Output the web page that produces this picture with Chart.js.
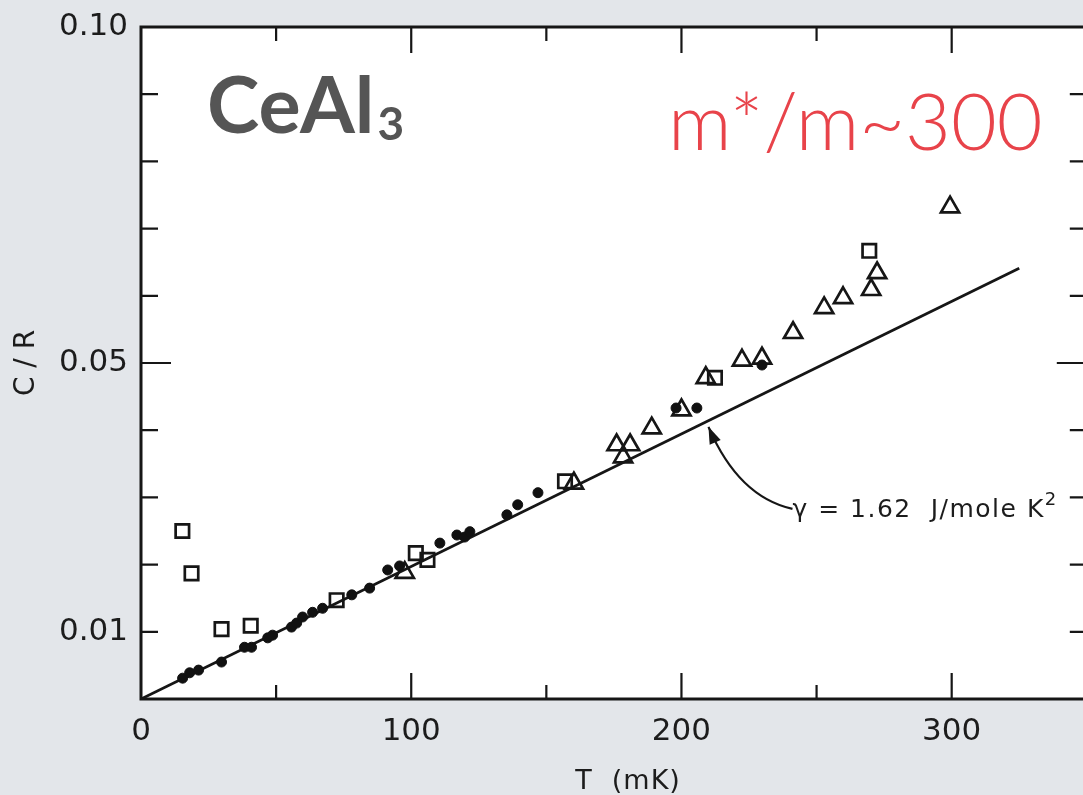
<!DOCTYPE html>
<html>
<head>
<meta charset="utf-8">
<script src="https://cdn.jsdelivr.net/npm/chart.js@4/dist/chart.umd.min.js"></script>
<style>
html,body{margin:0;padding:0;overflow:hidden;background:#e3e6ea;}
#wrap{width:1100px;height:795px;}
</style>
</head>
<body>
<div id="wrap"><canvas id="chart" width="1100" height="795"></canvas></div>
<script>
// C/R vs T (mK) for CeAl3
const dotT=[15.4,18.0,21.3,29.8,38.3,40.9,46.9,48.7,55.7,57.6,59.8,63.5,67.2,78.0,84.6,91.3,95.7,110.6,116.9,119.8,121.7,135.4,139.4,146.9,198.0,205.7,229.8];
const dotC=[0.0031,0.0039,0.0043,0.0055,0.0077,0.0077,0.0091,0.0095,0.0107,0.0113,0.0122,0.0129,0.0135,0.0155,0.0165,0.0192,0.0198,0.0232,0.0244,0.0241,0.0249,0.0274,0.0289,0.0307,0.0433,0.0433,0.0497];
const squareT=[15.3,18.7,29.8,40.6,72.4,101.7,106.0,156.9,212.4,269.5];
const squareC=[0.0250,0.0187,0.0104,0.0109,0.0147,0.0217,0.0207,0.0324,0.0478,0.0667];
const triT=[97.6,160.2,176.0,181.0,178.4,189.0,200.0,209.0,222.4,229.8,241.3,252.8,259.8,270.2,272.4,299.4];
const triC=[0.0188,0.0321,0.0378,0.0378,0.0360,0.0403,0.0430,0.0478,0.0504,0.0507,0.0545,0.0582,0.0597,0.0609,0.0634,0.0732];
// gamma = 1.62 J/mole K^2 fit line, end points
const fitT=[0,325];
const fitC=[0,0.0641];
const xLabels=[0,100,200,300];
const yLabels=[0.01,0.05,0.10];
const xMajor=[100,200,300];
const xMinor=[50,150,250];
const yMinor=[0.01,0.02,0.03,0.04,0.06,0.07,0.08,0.09];
const yMajor=[0.05];

const pts=(xs,ys)=>xs.map((x,i)=>({x:x,y:ys[i]}));

const framePlugin={
  id:"frame",
  beforeDraw(chart){
    const ctx=chart.ctx,a=chart.chartArea;
    ctx.save();
    ctx.fillStyle="#e3e6ea";
    ctx.fillRect(0,0,chart.width,chart.height);
    ctx.fillStyle="#ffffff";
    ctx.fillRect(a.left,a.top,a.right-a.left,a.bottom-a.top);
    ctx.restore();
  },
  afterDraw(chart){
    const ctx=chart.ctx,a=chart.chartArea,xs=chart.scales.x,ys=chart.scales.y;
    ctx.save();
    ctx.strokeStyle="#161616";
    ctx.lineWidth=3;
    ctx.strokeRect(a.left,a.top,a.right-a.left,a.bottom-a.top);
    ctx.lineWidth=2.2;
    ctx.beginPath();
    xMajor.concat(xMinor).forEach(v=>{
      const p=xs.getPixelForValue(v),len=xMajor.includes(v)?26:14;
      ctx.moveTo(p,a.bottom);ctx.lineTo(p,a.bottom-len);
      ctx.moveTo(p,a.top);ctx.lineTo(p,a.top+len);
    });
    yMinor.concat(yMajor).forEach(v=>{
      const p=ys.getPixelForValue(v),len=yMajor.includes(v)?30:17;
      ctx.moveTo(a.left,p);ctx.lineTo(a.left+len,p);
      ctx.moveTo(a.right,p);ctx.lineTo(a.right-len,p);
    });
    ctx.stroke();

    // arrow to the fit line
    const tx=xs.getPixelForValue(210),ty=ys.getPixelForValue(0.0405);
    const sx=tx+84,sy=ty+82,cx=tx+30,cy=ty+70;
    ctx.lineWidth=2.2;
    ctx.beginPath();
    ctx.moveTo(sx,sy);
    ctx.quadraticCurveTo(cx,cy,tx,ty);
    ctx.stroke();
    const ang=Math.atan2(ty-cy,tx-cx);
    ctx.fillStyle="#161616";
    ctx.beginPath();
    ctx.moveTo(tx,ty);
    ctx.lineTo(tx-17*Math.cos(ang)+6*Math.sin(ang),ty-17*Math.sin(ang)-6*Math.cos(ang));
    ctx.lineTo(tx-17*Math.cos(ang)-6*Math.sin(ang),ty-17*Math.sin(ang)+6*Math.cos(ang));
    ctx.closePath();
    ctx.fill();

    ctx.fillStyle="#1c1c1c";
    ctx.textBaseline="alphabetic";
    ctx.textAlign="left";
    ctx.letterSpacing="1.5px";
    ctx.font="25px 'DejaVu Sans'";
    const lbl="\u03b3 = 1.62  J/mole K";
    ctx.fillText(lbl,sx,sy+8);
    const w=ctx.measureText(lbl).width;
    ctx.font="18px 'DejaVu Sans'";
    ctx.fillText("2",sx+w,sy-4);

    // axis title
    ctx.letterSpacing="1px";
    ctx.font="27px 'DejaVu Sans'";
    ctx.textAlign="center";
    ctx.fillText("T  (mK)",628,789);

    // annotations
    ctx.letterSpacing="0px";
    ctx.textAlign="left";
    ctx.fillStyle="#555555";
    ctx.font="bold 79px Lato";
    ctx.fillText("CeAl",207,133);
    const cw=ctx.measureText("CeAl").width;
    ctx.font="bold 46px Lato";
    ctx.fillText("3",207+cw+3,140);
    ctx.fillStyle="#e8434a";
    ctx.font="300 79px Lato";
    ctx.fillText("m*/m~300",668,150);
    ctx.restore();
  }
};

new Chart(document.getElementById("chart"),{
  type:"scatter",
  data:{
    datasets:[
      {label:"fit",type:"line",data:pts(fitT,fitC),borderColor:"#161616",borderWidth:2.8,pointRadius:0,fill:false,order:4},
      {label:"dots",data:pts(dotT,dotC),pointStyle:"circle",pointRadius:5,backgroundColor:"#111111",borderColor:"#111111",borderWidth:1},
      {label:"squares",data:pts(squareT,squareC),pointStyle:"rect",pointRadius:9.5,backgroundColor:"rgba(255,255,255,0)",borderColor:"#161616",borderWidth:2.7},
      {label:"triangles",data:pts(triT,triC),pointStyle:"triangle",pointRadius:10.5,backgroundColor:"rgba(255,255,255,0)",borderColor:"#161616",borderWidth:2.7}
    ]
  },
  options:{
    responsive:false,
    animation:false,
    layout:{padding:{top:27,right:11,left:0,bottom:0}},
    plugins:{legend:{display:false},tooltip:{enabled:false}},
    scales:{
      x:{
        type:"linear",min:0,max:350,
        grid:{display:false,drawTicks:false},
        border:{display:false},
        afterBuildTicks:s=>{s.ticks=xLabels.map(v=>({value:v}));},
        afterFit:s=>{s.height=96;s.paddingLeft=0;s.paddingRight=0;},
        ticks:{padding:14,color:"#1c1c1c",font:{family:"DejaVu Sans",size:31},callback:v=>String(v)}
      },
      y:{
        type:"linear",min:0,max:0.10,
        grid:{display:false,drawTicks:false},
        border:{display:false},
        afterBuildTicks:s=>{s.ticks=yLabels.map(v=>({value:v}));},
        afterFit:s=>{s.width=141;s.paddingTop=0;s.paddingBottom=0;},
        ticks:{padding:13,color:"#1c1c1c",font:{family:"DejaVu Sans",size:31},callback:v=>Number(v).toFixed(2)},
        title:{display:true,text:"C / R",color:"#1c1c1c",font:{family:"DejaVu Sans",size:28},padding:{top:10,bottom:0}}
      }
    }
  },
  plugins:[framePlugin]
});
</script>
</body>
</html>
